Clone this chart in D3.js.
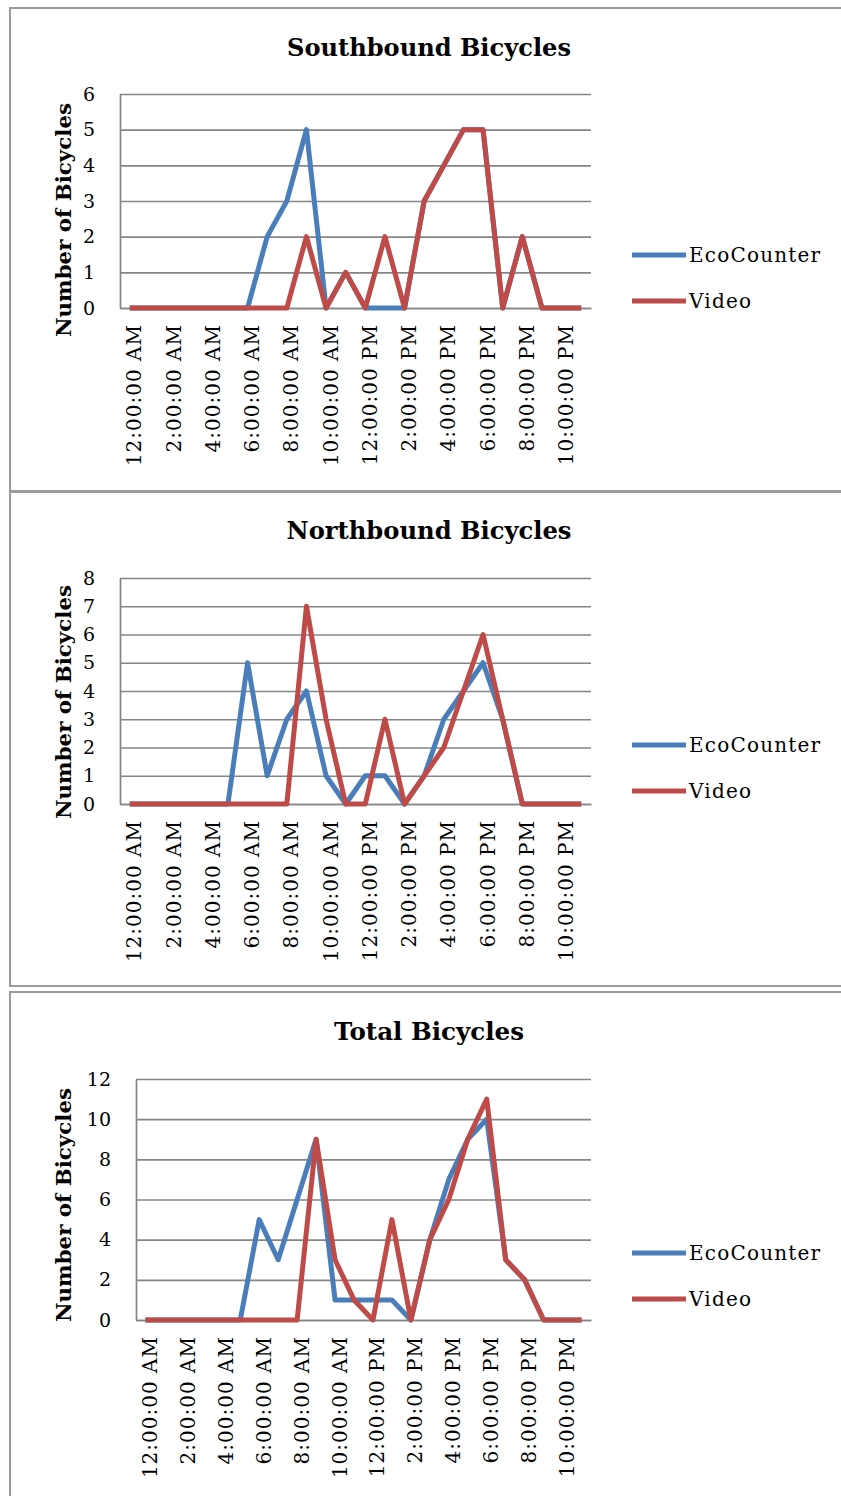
<!DOCTYPE html>
<html>
<head>
<meta charset="utf-8">
<script src="https://cdn.jsdelivr.net/npm/d3@7"></script>
<style>
  body { margin: 0; background: #fff; }
  svg { display: block; }
</style>
</head>
<body>
<div id="chart"></div>
<script>
// Hour categories (one point per hour)
const hours = [
  "12:00:00 AM", "1:00:00 AM", "2:00:00 AM", "3:00:00 AM", "4:00:00 AM", "5:00:00 AM",
  "6:00:00 AM", "7:00:00 AM", "8:00:00 AM", "9:00:00 AM", "10:00:00 AM", "11:00:00 AM",
  "12:00:00 PM", "1:00:00 PM", "2:00:00 PM", "3:00:00 PM", "4:00:00 PM", "5:00:00 PM",
  "6:00:00 PM", "7:00:00 PM", "8:00:00 PM", "9:00:00 PM", "10:00:00 PM", "11:00:00 PM"
];
// Only every second hour gets a label
const hourLabels = hours.filter((d, i) => i % 2 === 0);

const seriesNames = ["EcoCounter", "Video"];

// Southbound counts
const southEco   = [0,0,0,0,0,0,0,2,3,5,0,1,0,0,0,3,4,5,5,0,2,0,0,0];
const southVideo = [0,0,0,0,0,0,0,0,0,2,0,1,0,2,0,3,4,5,5,0,2,0,0,0];

// Northbound counts
const northEco   = [0,0,0,0,0,0,5,1,3,4,1,0,1,1,0,1,3,4,5,3,0,0,0,0];
const northVideo = [0,0,0,0,0,0,0,0,0,7,3,0,0,3,0,1,2,4,6,3,0,0,0,0];

// Total counts
const totalEco   = [0,0,0,0,0,0,5,3,6,9,1,1,1,1,0,4,7,9,10,3,2,0,0,0];
const totalVideo = [0,0,0,0,0,0,0,0,0,9,3,1,0,5,0,4,6,9,11,3,2,0,0,0];

// y axis ticks for each chart
const southTicks = [0, 1, 2, 3, 4, 5, 6];
const northTicks = [0, 1, 2, 3, 4, 5, 6, 7, 8];
const totalTicks = [0, 2, 4, 6, 8, 10, 12];

const colors = { EcoCounter: "#4a7ebb", Video: "#be4b48" };
const serif = "'DejaVu Serif', 'Liberation Serif', serif";

const width = 841;
const height = 1496;

const svg = d3
  .select("#chart")
  .append("svg")
  .attr("width", width)
  .attr("height", height);

svg.append("rect").attr("width", width).attr("height", height).attr("fill", "#fff");

// Draw one panel with its line chart
function drawChart(opts) {
  const g = svg.append("g");

  // Panel frame
  g.append("rect")
    .attr("x", 10)
    .attr("y", opts.frameTop)
    .attr("width", 850)
    .attr("height", opts.frameBottom - opts.frameTop)
    .attr("fill", "none")
    .attr("stroke", "#9b9b9b")
    .attr("stroke-width", 2);

  // Scales
  const xScale = d3
    .scalePoint()
    .domain(hours)
    .range([opts.left, opts.right])
    .padding(0.5);

  const yScale = d3
    .scaleLinear()
    .domain([0, d3.max(opts.ticks)])
    .range([opts.bottom, opts.top]);

  // Y axis with gridlines
  const yAxis = d3
    .axisLeft(yScale)
    .tickValues(opts.ticks)
    .tickFormat(d3.format("d"))
    .tickSize(-(opts.right - opts.left))
    .tickSizeOuter(0)
    .tickPadding(25);

  const yg = g.append("g")
    .attr("transform", `translate(${opts.left},0)`)
    .call(yAxis);
  yg.select(".domain").attr("stroke", "#858585").attr("stroke-width", 1.7);
  yg.selectAll(".tick line").attr("stroke", "#858585").attr("stroke-width", 1.7);
  yg.selectAll(".tick text")
    .attr("fill", "#000")
    .style("font-family", serif)
    .style("font-size", "19px");

  // X axis with rotated labels
  const xAxis = d3
    .axisBottom(xScale)
    .tickValues(hourLabels)
    .tickSize(0)
    .tickSizeOuter(0);

  const xg = g.append("g")
    .attr("transform", `translate(0,${opts.bottom})`)
    .call(xAxis);
  xg.select(".domain").attr("stroke", "#858585").attr("stroke-width", 1.7);
  xg.selectAll(".tick text")
    .attr("fill", "#000")
    .attr("transform", "rotate(-90)")
    .attr("text-anchor", "end")
    .attr("x", -16)
    .attr("y", 0)
    .attr("dy", "0.55em")
    .style("font-family", serif)
    .style("font-size", "20px")
    .style("letter-spacing", "1px");

  // Lines
  const line = d3
    .line()
    .x((d, i) => xScale(hours[i]))
    .y((d) => yScale(d));

  opts.series.forEach((s) => {
    g.append("path")
      .datum(s.values)
      .attr("fill", "none")
      .attr("stroke", colors[s.name])
      .attr("stroke-width", 5)
      .attr("stroke-linejoin", "round")
      .attr("d", line);
  });

  // Title
  g.append("text")
    .attr("x", 429)
    .attr("y", opts.titleY)
    .attr("text-anchor", "middle")
    .attr("textLength", opts.titleLen)
    .attr("lengthAdjust", "spacingAndGlyphs")
    .style("font-family", serif)
    .style("font-weight", "bold")
    .style("font-size", "25px")
    .text(opts.title);

  // Y axis title
  g.append("text")
    .attr("transform", `translate(71,${opts.yTitleY}) rotate(-90)`)
    .attr("text-anchor", "middle")
    .attr("textLength", 234)
    .attr("lengthAdjust", "spacingAndGlyphs")
    .style("font-family", serif)
    .style("font-weight", "bold")
    .style("font-size", "21px")
    .text("Number of Bicycles");

  // Legend
  seriesNames.forEach((name, i) => {
    const ly = opts.legendY + i * 46;
    g.append("line")
      .attr("x1", 632)
      .attr("x2", 686)
      .attr("y1", ly)
      .attr("y2", ly)
      .attr("stroke", colors[name])
      .attr("stroke-width", 5);
    g.append("text")
      .attr("x", 689)
      .attr("y", ly + 7)
      .style("font-family", serif)
      .style("font-size", "20px")
      .style("letter-spacing", "1.2px")
      .text(name);
  });
}

drawChart({
  title: "Southbound Bicycles", titleY: 56, titleLen: 284,
  frameTop: 8, frameBottom: 491,
  left: 120, right: 591, top: 94, bottom: 308,
  ticks: southTicks, yTitleY: 220, legendY: 255,
  series: [
    { name: "EcoCounter", values: southEco },
    { name: "Video", values: southVideo }
  ]
});

drawChart({
  title: "Northbound Bicycles", titleY: 539, titleLen: 285,
  frameTop: 492, frameBottom: 986,
  left: 120, right: 591, top: 578, bottom: 804,
  ticks: northTicks, yTitleY: 702, legendY: 745,
  series: [
    { name: "EcoCounter", values: northEco },
    { name: "Video", values: northVideo }
  ]
});

drawChart({
  title: "Total Bicycles", titleY: 1040, titleLen: 190,
  frameTop: 992, frameBottom: 1520,
  left: 136, right: 591, top: 1079, bottom: 1320,
  ticks: totalTicks, yTitleY: 1205, legendY: 1253,
  series: [
    { name: "EcoCounter", values: totalEco },
    { name: "Video", values: totalVideo }
  ]
});
</script>
</body>
</html>
